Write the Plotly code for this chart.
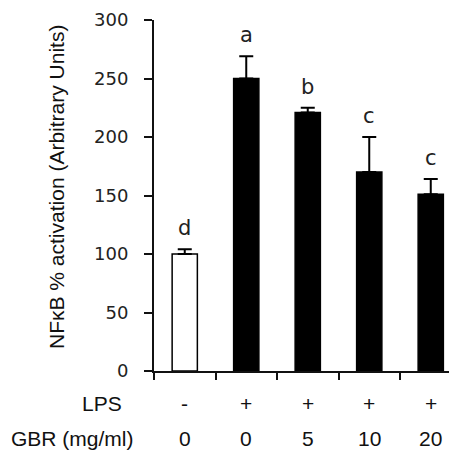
import plotly.graph_objects as go

groups = ["1", "2", "3", "4", "5"]
values = [100, 250, 221, 170, 151]
errors = [4, 19, 4, 30, 13]
letters = ["d", "a", "b", "c", "c"]
lps = ["-", "+", "+", "+", "+"]
gbr = ["0", "0", "5", "10", "20"]
fills = ["white", "black", "black", "black", "black"]
yticks = [0, 50, 100, 150, 200, 250, 300]

xs = list(range(len(groups)))

# page body has an 8px margin; work in absolute page pixels then convert
OFF = 8
W, H = 457 - OFF, 453 - OFF
L = 154 - OFF
T = 20 - OFF
B = H - (371 - OFF)
pw = W - L
ph = H - T - B


def py(y_abs):
    return (H - B - (y_abs - OFF)) / ph


def px(x_abs):
    return ((x_abs - OFF) - L) / pw


fig = go.Figure()
fig.add_trace(go.Bar(
    x=xs, y=values, width=0.41,
    marker=dict(color=fills, line=dict(color="black", width=1.5)),
    error_y=dict(type="data", symmetric=False, array=errors,
                 arrayminus=[0] * len(errors), color="black",
                 thickness=2, width=7),
    showlegend=False,
))

font_num = "DejaVu Sans, Verdana, sans-serif"
font_lab = "Liberation Sans, Arial, sans-serif"

ann = []
for i, (v, e, l) in enumerate(zip(values, errors, letters)):
    ann.append(dict(x=i, y=v + e, xref="x", yref="y", text=l, showarrow=False,
                    yanchor="bottom", yshift=7,
                    font=dict(family=font_num, size=21, color="#222")))
for i, (p, g) in enumerate(zip(lps, gbr)):
    ann.append(dict(x=i, y=py(403), xref="x", yref="paper", text=p, showarrow=False,
                    font=dict(family=font_lab, size=21, color="#111"),
                    yanchor="middle"))
    ann.append(dict(x=i, y=py(439), xref="x", yref="paper", text=g, showarrow=False,
                    font=dict(family=font_lab, size=21, color="#111"),
                    yanchor="middle"))

ann.append(dict(x=px(124), y=py(403), xref="paper", yref="paper",
                text="LPS", showarrow=False, xanchor="right", yanchor="middle",
                font=dict(family=font_lab, size=21, color="#111")))
ann.append(dict(x=px(136), y=py(439), xref="paper", yref="paper",
                text="GBR (mg/ml)", showarrow=False, xanchor="right", yanchor="middle",
                font=dict(family=font_lab, size=21, color="#111")))
ann.append(dict(x=px(56), y=py(187), xref="paper", yref="paper",
                text="NFκB % activation (Arbitrary Units)", showarrow=False,
                textangle=-90, xanchor="center", yanchor="middle",
                font=dict(family=font_lab, size=21, color="#111")))

fig.update_layout(
    width=W, height=H,
    margin=dict(l=L, r=0, t=T, b=B, pad=0),
    plot_bgcolor="white", paper_bgcolor="white",
    annotations=ann,
    xaxis=dict(range=[-0.5, -0.5 + pw / 61.5], showgrid=False, zeroline=False,
               showline=True, linecolor="#111", linewidth=2,
               tickmode="array", tickvals=[-0.5, 0.5, 1.5, 2.5, 3.5],
               ticktext=["", "", "", "", ""], ticks="outside", ticklen=7,
               tickwidth=2, tickcolor="#111"),
    yaxis=dict(range=[0, 300], showgrid=False, zeroline=False,
               showline=True, linecolor="#111", linewidth=2,
               tickmode="array", tickvals=yticks,
               ticks="outside", ticklen=8, tickwidth=2, tickcolor="#111",
               ticklabelstandoff=12,
               tickfont=dict(family=font_num, size=18, color="#222")),
)

fig.write_html("out.html")
